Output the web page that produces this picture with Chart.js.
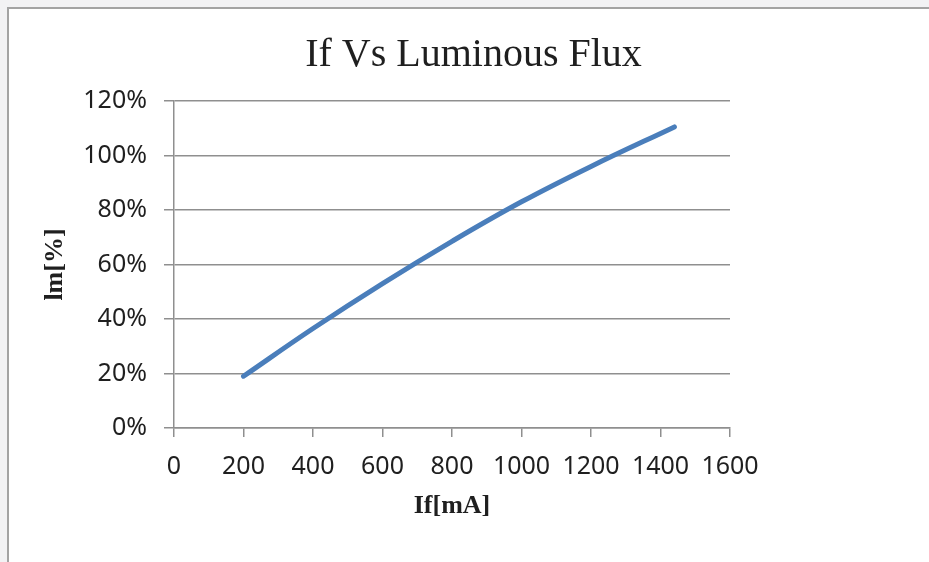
<!DOCTYPE html>
<html>
<head>
<meta charset="utf-8">
<script src="https://cdn.jsdelivr.net/npm/chart.js@4"></script>
<style>
  html, body { margin:0; padding:0; }
  body { width:929px; height:562px; background:#f2f2f4; position:relative; overflow:hidden; }
  #panel { position:absolute; left:7px; top:7px; right:0; bottom:0; background:#fff;
           border-left:2px solid #a3a3a3; border-top:2px solid #a3a3a3; }
  #chart { position:absolute; left:0; top:0; }
</style>
</head>
<body>
<div id="panel"></div>
<canvas id="chart" width="929" height="562"></canvas>
<script>
// forward current (mA) vs relative luminous flux (%)
const currentMA = [200, 400, 600, 800, 1000, 1200, 1440];
const fluxPct   = [19, 36.5, 53, 68.5, 83, 96, 110.5];

const xTicks = [0, 200, 400, 600, 800, 1000, 1200, 1400, 1600];
const yTicks = [0, 20, 40, 60, 80, 100, 120];

const GRID = '#8f8f8f';
const TXT = '#1f1f1f';
const SERIF = "'Liberation Serif', 'DejaVu Serif', serif";
const SANS = "'Noto Sans', 'Open Sans', sans-serif";

new Chart(document.getElementById('chart'), {
  type: 'line',
  data: {
    datasets: [{
      data: currentMA.map((x, i) => ({ x, y: fluxPct[i] })),
      borderColor: '#4a7ebb',
      borderWidth: 5,
      borderCapStyle: 'round',
      borderJoinStyle: 'round',
      tension: 0.4,
      pointRadius: 0,
      fill: false,
      clip: false,
    }]
  },
  options: {
    responsive: false,
    animation: false,
    layout: { padding: { left: 30, right: 12, top: 0, bottom: 0 } },
    plugins: {
      legend: { display: false },
      tooltip: { enabled: false },
      title: {
        display: true,
        text: 'If Vs Luminous Flux',
        color: TXT,
        font: { family: SERIF, size: 40, weight: 'normal' },
        padding: { top: 31, bottom: 22 },
      },
    },
    scales: {
      x: {
        type: 'linear',
        min: xTicks[0], max: xTicks[xTicks.length - 1],
        afterBuildTicks: s => { s.ticks = xTicks.map(v => ({ value: v })); },
        afterFit: s => { s.height = 134; },
        ticks: { color: TXT, font: { family: SANS, size: 25 }, padding: 15, maxRotation: 0, autoSkip: false, callback: v => String(v) },
        grid: { drawOnChartArea: false, drawTicks: true, tickLength: 9, color: GRID, lineWidth: 1.5 },
        border: { display: true, color: GRID, width: 1.5 },
        title: {
          display: true, text: 'If[mA]', color: TXT,
          font: { family: SERIF, size: 26, weight: 'bold' },
          padding: { top: 0, bottom: 40 },
        },
      },
      y: {
        min: yTicks[0], max: yTicks[yTicks.length - 1],
        afterBuildTicks: s => { s.ticks = yTicks.map(v => ({ value: v })); },
        afterFit: s => { s.width = 144; },
        ticks: { color: TXT, font: { family: SANS, size: 25 }, padding: 17, callback: v => v + '%' },
        grid: { color: GRID, lineWidth: 1.5, tickLength: 10 },
        border: { display: true, color: GRID, width: 1.5 },
        title: {
          display: true, text: 'lm[%]', color: TXT,
          font: { family: SERIF, size: 26, weight: 'bold' },
          padding: { top: 10, bottom: 0 },
        },
      },
      // empty spacer on the right so the title stays centred on the panel
      spacer: {
        position: 'right',
        afterFit: s => { s.width = 187; },
        ticks: { display: false },
        grid: { display: false },
        border: { display: false },
      },
    }
  }
});
</script>
</body>
</html>
